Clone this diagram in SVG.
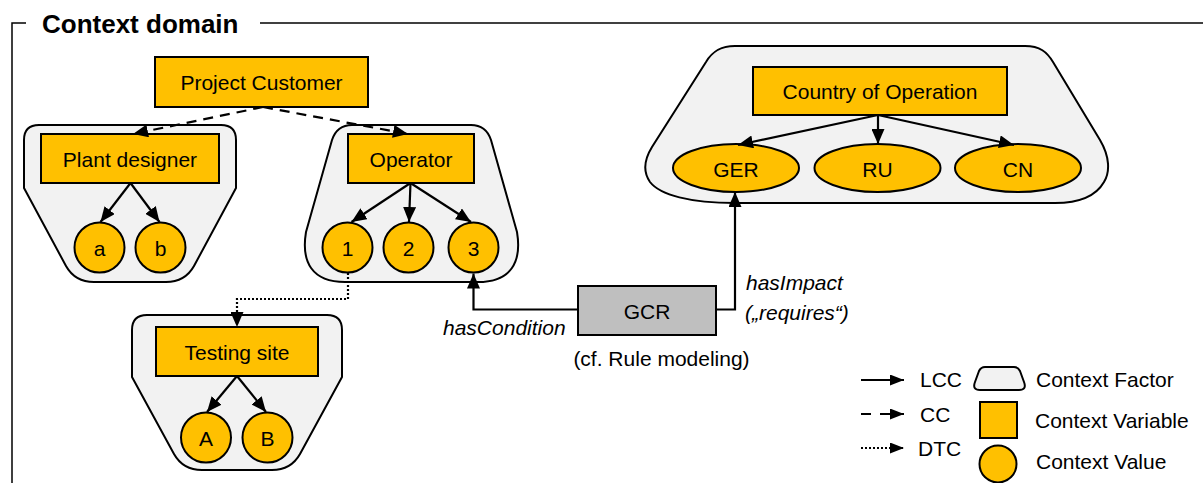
<svg xmlns="http://www.w3.org/2000/svg" width="1203" height="483" viewBox="0 0 1203 483">
  <style>
    text { font-family: "Liberation Sans", Arial, sans-serif; font-size: 21px; fill: #000; }
    .title { font-size: 26px; font-weight: bold; }
    .mid { text-anchor: middle; }
    .it { font-style: italic; }
    .factor { fill: #F2F2F2; stroke: #000; stroke-width: 2; stroke-linejoin: round; }
    .var { fill: #FFC000; stroke: #000; stroke-width: 2; }
    .val { fill: #FFC000; stroke: #000; stroke-width: 2; }
    .rule { fill: #BFBFBF; stroke: #000; stroke-width: 2; }
    .lcc { fill: none; stroke: #000; stroke-width: 2.2; marker-end: url(#arrow); }
    .cc { fill: none; stroke: #000; stroke-width: 2.2; stroke-dasharray: 10 7; marker-end: url(#arrow); }
    .dtc { fill: none; stroke: #000; stroke-width: 2.2; stroke-dasharray: 2 2; marker-end: url(#arrow); }
    .key { marker-end: url(#arrow-small); }
    .frame { fill: none; stroke: #000; stroke-width: 1.5; }
  </style>
  <defs>
    <marker id="arrow" viewBox="0 0 15 13" refX="15" refY="6.5" markerWidth="15" markerHeight="13" markerUnits="userSpaceOnUse" orient="auto">
      <path d="M0,0 L15,6.5 L0,13 Z" fill="#000"/>
    </marker>
    <marker id="arrow-small" viewBox="0 0 14 11" refX="14" refY="5.5" markerWidth="14" markerHeight="11" markerUnits="userSpaceOnUse" orient="auto">
      <path d="M0,0 L14,5.5 L0,11 Z" fill="#000"/>
    </marker>
  </defs>

  <!-- domain frame -->
  <g id="frame">
    <polyline class="frame" points="26,23 12,23 12,483"/>
    <line class="frame" x1="260" y1="23" x2="1203" y2="23"/>
    <text class="title" x="42" y="33">Context domain</text>
  </g>

  <!-- context variable without factor -->
  <g id="project-customer">
    <rect class="var" x="155" y="57" width="213" height="50"/>
    <text class="mid" x="261.5" y="90">Project Customer</text>
  </g>

  <!-- factor: plant designer -->
  <g id="plant-designer">
    <path class="factor" d="M39,125 L221,125 Q236,125 236,140 L236,188 L194,266 Q185,282 166,282 L94,282 Q75,282 66,266 L24,188 L24,140 Q24,125 39,125 Z"/>
    <rect class="var" x="41" y="134" width="178" height="49"/>
    <text class="mid" x="130" y="167">Plant designer</text>
    <g id="value-a">
      <circle class="val" cx="99.5" cy="247.5" r="25"/>
      <text class="mid" x="99.5" y="256">a</text>
    </g>
    <g id="value-b">
      <circle class="val" cx="160.5" cy="247.5" r="25"/>
      <text class="mid" x="160.5" y="256">b</text>
    </g>
  </g>

  <!-- factor: operator -->
  <g id="operator">
    <path class="factor" d="M352,125 L471,125 Q486,125 491,140 L517,232 C522,262 511,282 478,282 L345,282 C312,282 301,262 306,232 L332,140 Q337,125 352,125 Z"/>
    <rect class="var" x="348" y="134" width="126" height="49"/>
    <text class="mid" x="411" y="167">Operator</text>
    <g id="value-1">
      <circle class="val" cx="347.5" cy="247.5" r="25"/>
      <text class="mid" x="347.5" y="256">1</text>
    </g>
    <g id="value-2">
      <circle class="val" cx="408.5" cy="247.5" r="25"/>
      <text class="mid" x="408.5" y="256">2</text>
    </g>
    <g id="value-3">
      <circle class="val" cx="473.5" cy="247.5" r="25"/>
      <text class="mid" x="473.5" y="256">3</text>
    </g>
  </g>

  <!-- factor: testing site -->
  <g id="testing-site">
    <path class="factor" d="M147,315 L327,315 Q342,315 342,330 L342,377 L300,454 Q291,470 272,470 L202,470 Q183,470 174,454 L132,377 L132,330 Q132,315 147,315 Z"/>
    <rect class="var" x="156" y="327" width="162" height="49"/>
    <text class="mid" x="237" y="359.5">Testing site</text>
    <g id="value-A">
      <circle class="val" cx="206" cy="437.5" r="25"/>
      <text class="mid" x="206" y="446">A</text>
    </g>
    <g id="value-B">
      <circle class="val" cx="267.5" cy="437.5" r="25"/>
      <text class="mid" x="267.5" y="446">B</text>
    </g>
  </g>

  <!-- factor: country of operation -->
  <g id="country">
    <path class="factor" d="M735,46 L1025,46 C1040,46 1047,52 1053,62 L1100,140 C1110,157 1110,172 1104,182 C1096,196 1080,203 1055,203 L735,203 C690,203 660,195 650,182 C643,172 644,160 652,147 L706,62 C712,52 720,46 735,46 Z"/>
    <rect class="var" x="753" y="67" width="254" height="48"/>
    <text class="mid" x="880" y="98.5">Country of Operation</text>
    <g id="value-GER">
      <ellipse class="val" cx="736" cy="168" rx="63" ry="24"/>
      <text class="mid" x="736" y="176.5">GER</text>
    </g>
    <g id="value-RU">
      <ellipse class="val" cx="877.5" cy="168" rx="63" ry="24"/>
      <text class="mid" x="877.5" y="176.5">RU</text>
    </g>
    <g id="value-CN">
      <ellipse class="val" cx="1018" cy="168" rx="63" ry="24"/>
      <text class="mid" x="1018" y="176.5">CN</text>
    </g>
  </g>

  <!-- global context rule -->
  <g id="gcr">
    <rect class="rule" x="578" y="286" width="138" height="49"/>
    <text class="mid" x="647" y="318.5">GCR</text>
    <text class="mid" x="661.5" y="366">(cf. Rule modeling)</text>
  </g>

  <!-- connectors -->
  <g id="connectors">
    <line class="cc" x1="263" y1="107" x2="133" y2="134"/>
    <line class="cc" x1="263" y1="107" x2="408" y2="134"/>

    <line class="lcc" x1="130.5" y1="183" x2="100.5" y2="222"/>
    <line class="lcc" x1="130.5" y1="183" x2="159.5" y2="222"/>

    <line class="lcc" x1="410.5" y1="183" x2="351.5" y2="222"/>
    <line class="lcc" x1="410.5" y1="183" x2="409" y2="222"/>
    <line class="lcc" x1="410.5" y1="183" x2="471" y2="222"/>

    <line class="lcc" x1="237" y1="376" x2="207" y2="412"/>
    <line class="lcc" x1="237" y1="376" x2="266" y2="412"/>

    <line class="lcc" x1="878" y1="115" x2="738" y2="145"/>
    <line class="lcc" x1="878" y1="115" x2="878" y2="144"/>
    <line class="lcc" x1="878" y1="115" x2="1014" y2="145"/>

    <polyline class="dtc" points="348,273 348,299 237,299 237,327"/>

    <polyline class="lcc" points="578,309.5 473.5,309.5 473.5,273.5"/>
    <text class="it" x="443" y="335">hasCondition</text>

    <polyline class="lcc" points="716,309.5 735,309.5 735,192"/>
    <text class="it" x="746" y="290">hasImpact</text>
    <text class="it" x="745" y="320">(„requires“)</text>
  </g>

  <!-- legend -->
  <g id="legend">
    <line class="lcc key" x1="861" y1="380" x2="904" y2="380"/>
    <text x="920" y="387">LCC</text>
    <line class="cc key" x1="861" y1="414" x2="904" y2="414" style="stroke-dasharray: 10 9"/>
    <text x="920" y="422">CC</text>
    <line class="dtc key" x1="861" y1="448" x2="904" y2="448"/>
    <text x="918" y="456">DTC</text>

    <path class="factor" d="M985,367 L1014,367 Q1018,367 1020,371 L1024,382 Q1027,390 1019,390 L980,390 Q972,390 975,382 L979,371 Q981,367 985,367 Z"/>
    <text x="1036" y="387">Context Factor</text>
    <rect class="var" x="980" y="402" width="37" height="36"/>
    <text x="1035" y="428">Context Variable</text>
    <circle class="val" cx="998" cy="464" r="18.5"/>
    <text x="1036" y="469">Context Value</text>
  </g>
</svg>
